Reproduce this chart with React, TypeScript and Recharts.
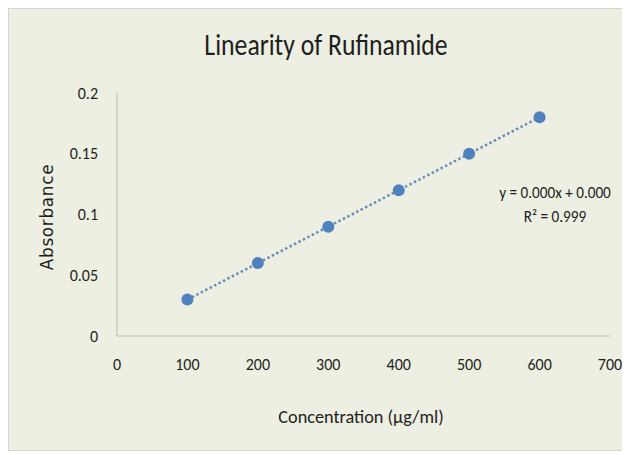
import React from 'react'
import {
    ComposedChart,
    Line,
    Scatter,
    XAxis,
    YAxis,
} from 'recharts'

// Measured standards
const concentration = [100, 200, 300, 400, 500, 600]
const absorbance = [0.03, 0.06, 0.09, 0.12, 0.15, 0.18]

// Trendline ends as drawn in the picture
const trendX = [100, 600]
const trendY = [0.03, 0.18]

const xTicks = [0, 100, 200, 300, 400, 500, 600, 700]
const yTicks = [0, 0.05, 0.1, 0.15, 0.2]

const points = concentration.map((x, i) => ({ x, y: absorbance[i] }))
const trend = trendX.map((x, i) => ({ x, y: trendY[i] }))

const FONT = "Carlito, 'Liberation Sans Narrow', 'Open Sans', sans-serif"
const BLUE = '#4f81bd'

const App: React.FC = () => {
    return (
        <div
            style={{
                position: 'relative',
                width: 621,
                height: 443,
                boxSizing: 'border-box',
                border: '1px solid #d4d6cc',
                background: '#ecefe1',
                fontFamily: FONT,
                color: '#1e1e1e',
            }}
        >
            {/* title */}
            <div
                style={{
                    position: 'absolute',
                    left: 317 - 200,
                    width: 400,
                    top: 16,
                    textAlign: 'center',
                    fontSize: 31,
                    transform: 'scaleX(0.83)',
                }}
            >
                Linearity of Rufinamide
            </div>

            {/* y axis title */}
            <div
                style={{
                    position: 'absolute',
                    left: 38 - 70,
                    top: 208 - 10,
                    width: 140,
                    height: 20,
                    lineHeight: '20px',
                    textAlign: 'center',
                    fontSize: 18,
                    letterSpacing: 0.8,
                    fontFamily: "'DejaVu Sans', sans-serif",
                    transform: 'rotate(-90deg) scaleX(0.93)',
                }}
            >
                Absorbance
            </div>

            {/* x axis title */}
            <div
                style={{
                    position: 'absolute',
                    left: 352 - 100,
                    top: 396,
                    width: 200,
                    textAlign: 'center',
                    fontSize: 19,
                    transform: 'scaleX(0.96)',
                }}
            >
                Concentration (µg/ml)
            </div>

            {/* trendline equation */}
            <div
                style={{
                    position: 'absolute',
                    left: 486,
                    top: 172,
                    width: 120,
                    textAlign: 'center',
                    fontSize: 16,
                    lineHeight: '24px',
                    transform: 'scaleX(0.95)',
                }}
            >
                <div>y = 0.000x + 0.000</div>
                <div>R² = 0.999</div>
            </div>

            <ComposedChart
                width={619}
                height={441}
                margin={{ top: 84, right: 18, bottom: 84, left: 0 }}
                style={{ position: 'absolute', left: 0, top: 0 }}
            >
                <XAxis
                    type="number"
                    dataKey="x"
                    domain={[0, 700]}
                    ticks={xTicks}
                    interval={0}
                    height={30}
                    tickLine={false}
                    tickMargin={17}
                    axisLine={{ stroke: '#b9bbb2', strokeWidth: 1 }}
                    tick={{ fill: '#1e1e1e', fontSize: 16, fontFamily: FONT }}
                />
                <YAxis
                    type="number"
                    dataKey="y"
                    domain={[0, 0.2]}
                    ticks={yTicks}
                    interval={0}
                    width={108}
                    tickLine={false}
                    tickMargin={13}
                    axisLine={{ stroke: '#b9bbb2', strokeWidth: 1 }}
                    tick={{ fill: '#1e1e1e', fontSize: 16, fontFamily: FONT }}
                />
                <Line
                    data={trend}
                    dataKey="y"
                    type="linear"
                    stroke="#6a8cbb"
                    strokeWidth={2.5}
                    strokeDasharray="2.5 2.5"
                    dot={false}
                    activeDot={false}
                    isAnimationActive={false}
                />
                <Scatter
                    data={points}
                    dataKey="y"
                    fill={BLUE}
                    shape={(p: any) => <circle cx={p.cx} cy={p.cy} r={6} fill={BLUE} />}
                    isAnimationActive={false}
                />
            </ComposedChart>
        </div>
    )
}

export default App
